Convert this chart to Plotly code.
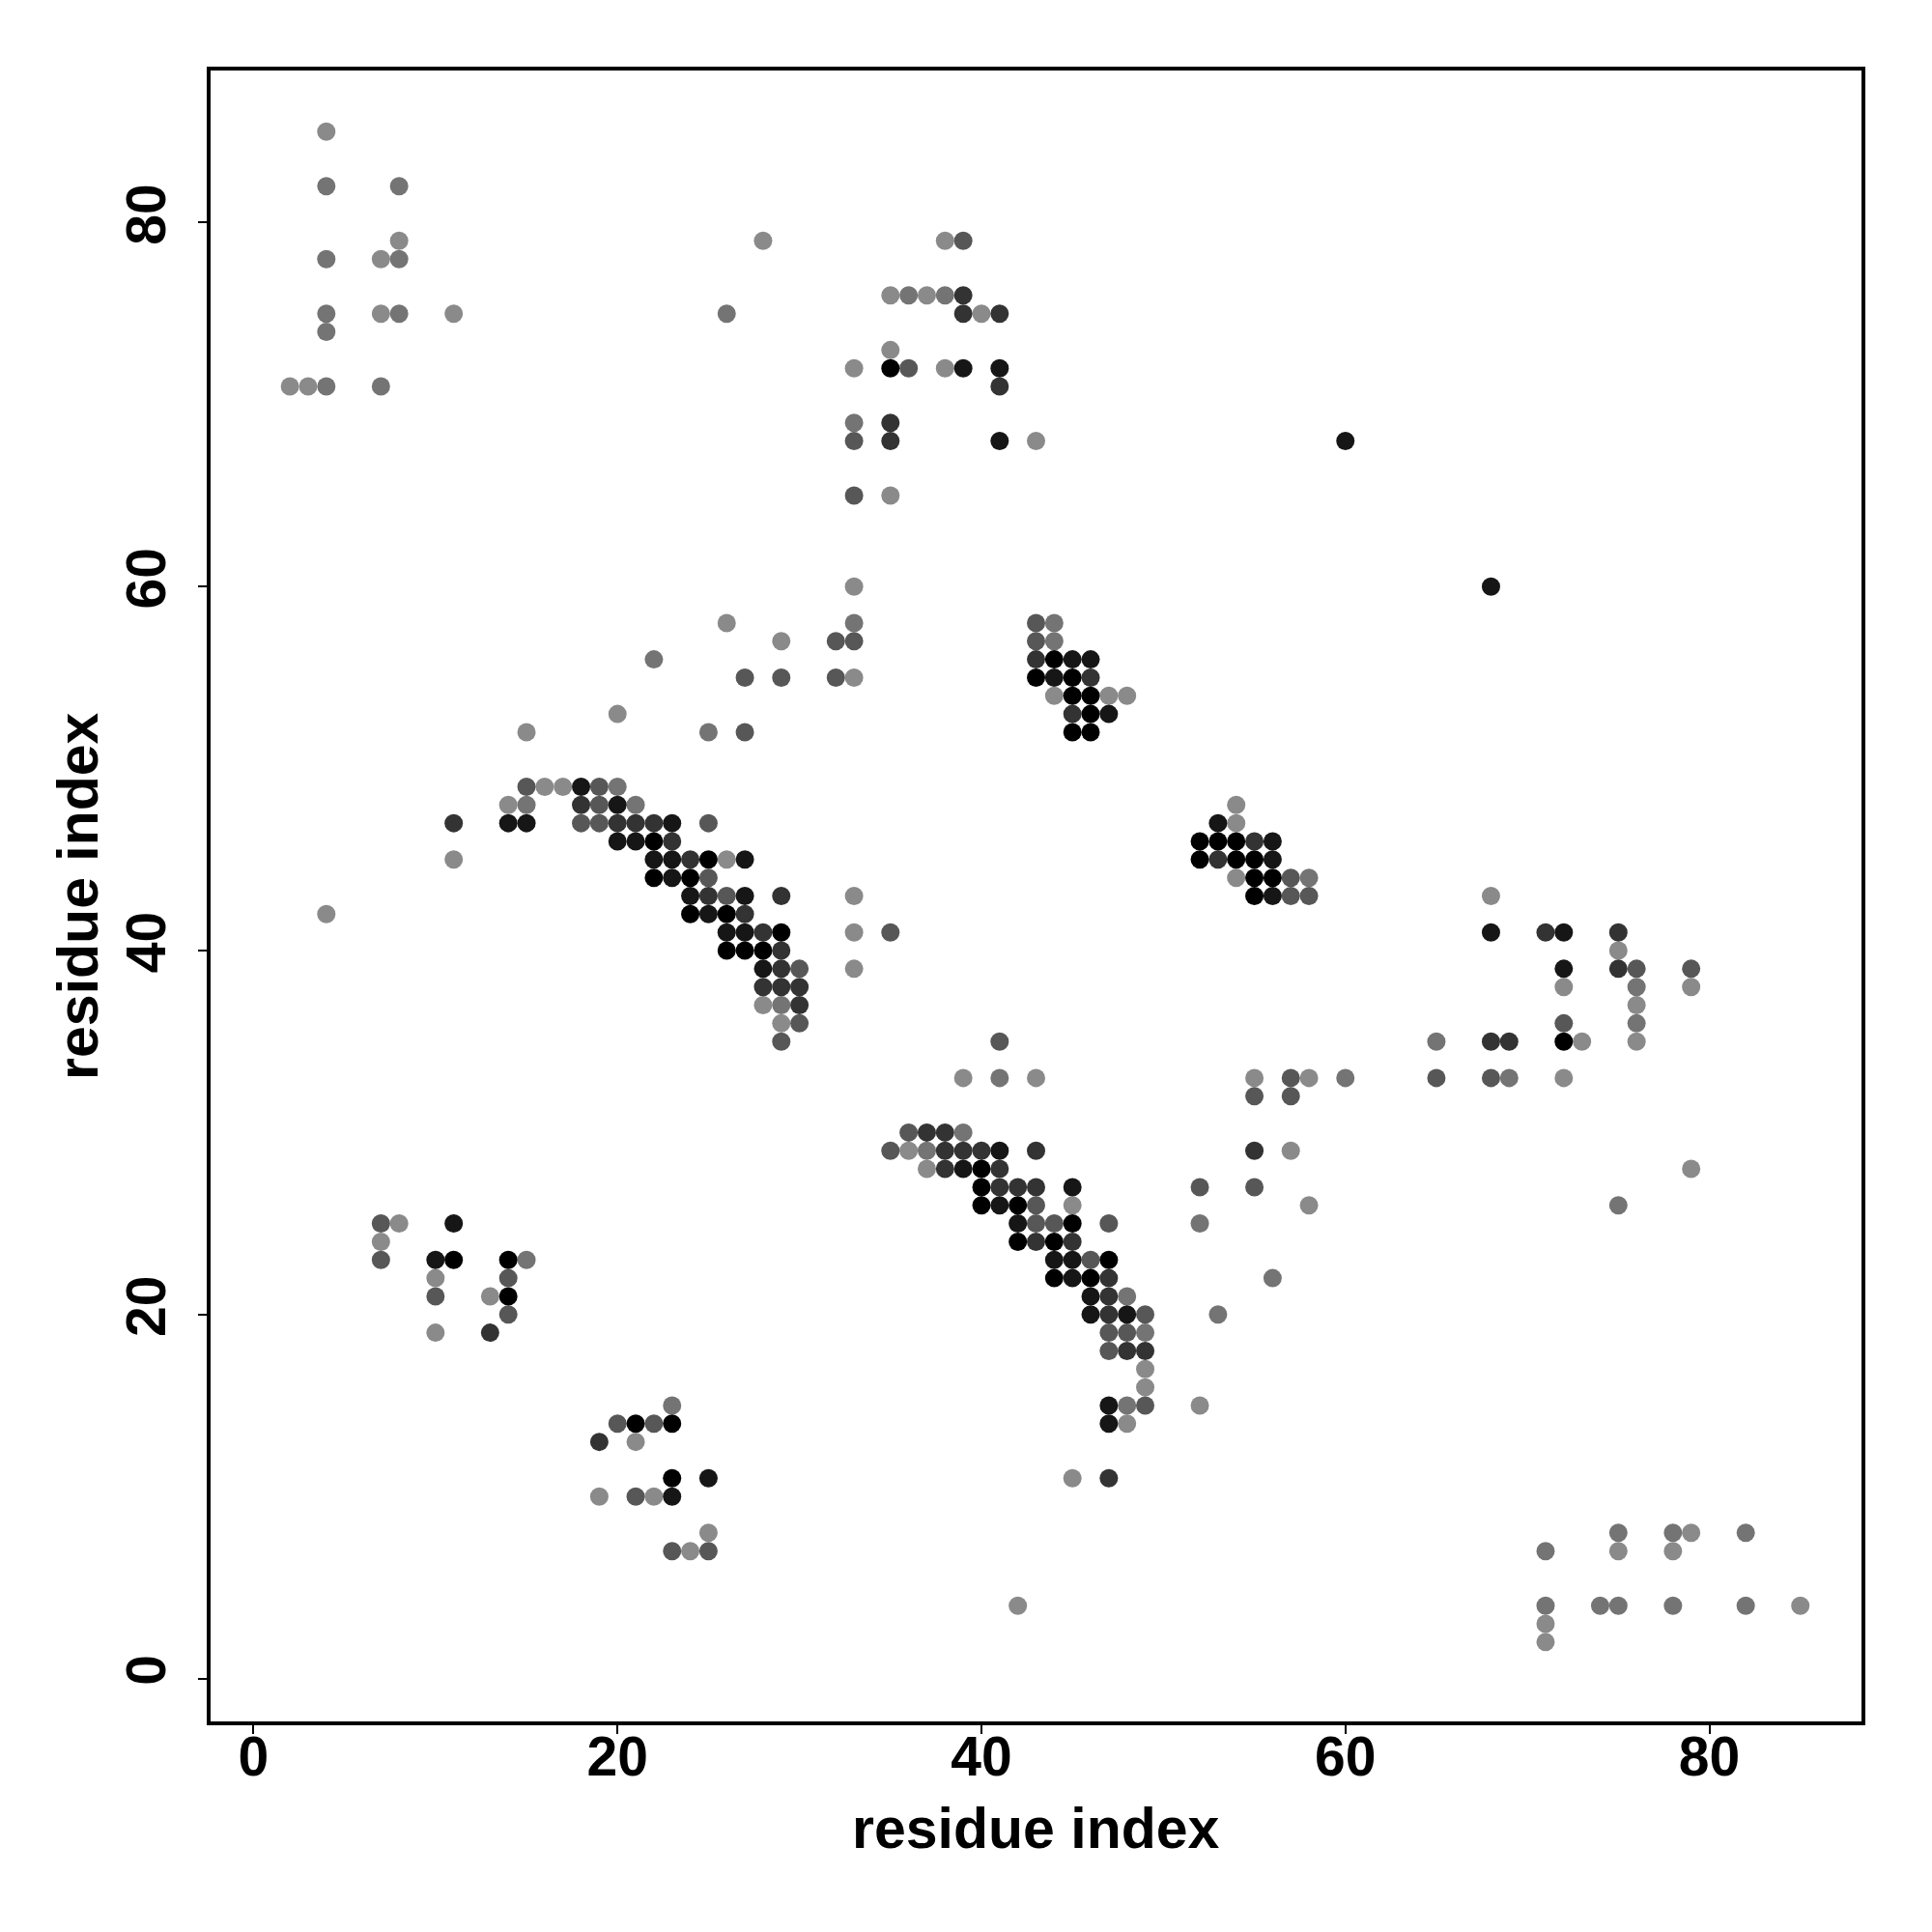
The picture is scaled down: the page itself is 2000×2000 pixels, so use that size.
import plotly.graph_objects as go

# Contact map: (i, j) residue pairs grouped by predicted contact probability level
# probability level of each group
level_prob = [0.05, 0.2, 0.4, 0.65, 0.85, 1.0]

contacts_p05 = [
    (4, 85), (8, 79), (28, 79), (38, 79), (7, 78), (35, 76), (37, 76), (7, 75), (11, 75), (40, 75),
    (35, 73), (33, 72), (38, 72), (2, 71), (3, 71), (43, 68), (35, 65), (33, 60), (26, 58), (29, 57),
    (33, 55), (44, 54), (47, 54), (48, 54), (20, 53), (15, 52), (16, 49), (17, 49), (14, 48), (54, 48),
    (54, 47), (11, 45), (26, 45), (54, 44), (33, 43), (68, 43), (4, 42), (33, 41), (75, 40), (33, 39),
    (72, 38), (79, 38), (28, 37), (76, 37), (29, 36), (73, 35), (76, 35), (39, 33), (43, 33), (55, 33),
    (58, 33), (72, 33), (36, 29), (57, 29), (37, 28), (79, 28), (45, 26), (58, 26), (8, 25), (7, 24),
    (10, 22), (13, 21), (10, 19), (49, 17), (49, 16), (52, 15), (48, 14), (21, 13), (45, 11), (19, 10),
    (22, 10), (25, 8), (79, 8), (24, 7), (75, 7), (78, 7), (42, 4), (85, 4), (71, 3), (71, 2),
]
contacts_p20 = [
    (4, 82), (8, 82), (4, 78), (8, 78), (36, 76), (38, 76), (4, 75), (8, 75), (26, 75), (4, 74),
    (4, 71), (7, 71), (33, 69), (33, 58), (44, 58), (44, 57), (22, 56), (25, 52), (20, 49), (15, 48),
    (21, 48), (58, 44), (76, 38), (29, 37), (76, 36), (65, 35), (41, 33), (60, 33), (69, 33), (39, 30),
    (37, 29), (75, 26), (52, 25), (15, 23), (56, 22), (48, 21), (53, 20), (49, 19), (23, 15), (48, 15),
    (75, 8), (78, 8), (82, 8), (71, 7), (71, 4), (74, 4), (75, 4), (78, 4), (82, 4),
]
contacts_p40 = [
    (39, 79), (36, 72), (33, 68), (33, 65), (43, 58), (32, 57), (33, 57), (43, 57), (27, 55), (29, 55),
    (32, 55), (27, 52), (15, 49), (19, 49), (19, 48), (18, 47), (19, 47), (25, 47), (25, 44), (57, 44),
    (26, 43), (57, 43), (58, 43), (35, 41), (30, 39), (76, 39), (79, 39), (30, 36), (72, 36), (29, 35),
    (41, 35), (57, 33), (65, 33), (68, 33), (55, 32), (57, 32), (36, 30), (35, 29), (52, 27), (55, 27),
    (43, 26), (7, 25), (43, 25), (44, 25), (47, 25), (7, 23), (46, 23), (14, 22), (10, 21), (14, 20),
    (49, 20), (47, 19), (48, 19), (47, 18), (49, 15), (20, 14), (22, 14), (21, 10), (23, 7), (25, 7),
]
contacts_p65 = [
    (39, 76), (39, 75), (41, 75), (41, 71), (35, 69), (35, 68), (43, 56), (46, 55), (45, 53), (18, 48),
    (11, 47), (20, 47), (21, 47), (22, 47), (23, 46), (55, 46), (24, 45), (53, 45), (25, 43), (29, 43),
    (27, 42), (28, 41), (71, 41), (75, 41), (29, 40), (29, 39), (75, 39), (28, 38), (29, 38), (30, 38),
    (30, 37), (68, 35), (69, 35), (37, 30), (38, 30), (38, 29), (39, 29), (40, 29), (43, 29), (55, 29),
    (38, 28), (41, 28), (41, 27), (42, 27), (43, 27), (43, 24), (45, 24), (47, 22), (47, 21), (47, 20),
    (48, 18), (49, 18), (13, 19), (19, 13), (47, 11),
]
contacts_p85 = [
    (39, 72), (41, 72), (41, 68), (60, 68), (68, 60), (45, 56), (46, 56), (44, 55), (47, 53), (18, 49),
    (20, 48), (14, 47), (15, 47), (23, 47), (53, 47), (20, 46), (21, 46), (56, 46), (22, 45), (23, 45),
    (27, 45), (56, 45), (23, 44), (24, 43), (27, 43), (56, 43), (25, 42), (26, 41), (27, 41), (68, 41),
    (72, 41), (28, 39), (72, 39), (41, 29), (39, 28), (45, 27), (41, 26), (11, 25), (42, 25), (10, 23),
    (44, 23), (45, 23), (45, 22), (46, 21), (46, 20), (48, 20), (47, 15), (47, 14), (25, 11), (23, 10),
]
contacts_p100 = [
    (35, 72), (44, 56), (43, 55), (45, 55), (45, 54), (46, 54), (46, 53), (45, 52), (46, 52), (22, 46),
    (52, 46), (53, 46), (54, 46), (25, 45), (52, 45), (54, 45), (55, 45), (22, 44), (24, 44), (55, 44),
    (56, 44), (55, 43), (24, 42), (26, 42), (29, 41), (26, 40), (27, 40), (28, 40), (72, 35), (40, 28),
    (40, 27), (40, 26), (42, 26), (45, 25), (42, 24), (44, 24), (11, 23), (14, 23), (47, 23), (44, 22),
    (46, 22), (14, 21), (21, 14), (23, 14), (23, 11),
]

groups = [contacts_p05, contacts_p20, contacts_p40, contacts_p65, contacts_p85, contacts_p100]

xs, ys, cs = [], [], []
for prob, grp in zip(level_prob, groups):
    for i, j in grp:
        xs.append(i)
        ys.append(j)
        cs.append(prob)

fig = go.Figure(go.Scatter(
    x=xs, y=ys, mode="markers",
    marker=dict(size=19, color=cs, cmin=0, cmax=1,
                colorscale=[[0, "rgb(145,145,145)"], [1, "rgb(0,0,0)"]],
                showscale=False, line=dict(width=0)),
    hoverinfo="x+y",
))

FONT = "Liberation Sans, Arial, sans-serif"
tickfont = dict(family=FONT, size=57, color="black", weight="bold")
axis_common = dict(
    range=[-2.36, 88.36], tickmode="array", tickvals=[0, 20, 40, 60, 80],
    showgrid=False, zeroline=False, showline=True, mirror=True,
    linecolor="black", linewidth=4, ticks="outside", ticklen=9, tickwidth=2,
    tickcolor="black", tickfont=tickfont,
)

fig.update_layout(
    width=1992, height=1992,
    margin=dict(l=210, r=73, t=65, b=218),
    paper_bgcolor="white", plot_bgcolor="white",
    showlegend=False,
    xaxis=dict(**axis_common, ticklabelstandoff=-25),
    yaxis=dict(**axis_common, tickangle=-90, ticklabelstandoff=11),
    annotations=[
        dict(text="residue index", xref="paper", yref="paper", x=0.5, y=-0.0649,
             xanchor="center", yanchor="middle", showarrow=False,
             font=dict(family=FONT, size=59, color="black", weight="bold")),
        dict(text="residue index", xref="paper", yref="paper", x=-0.0805, y=0.5,
             xanchor="center", yanchor="middle", showarrow=False, textangle=-90,
             font=dict(family=FONT, size=59, color="black", weight="bold")),
    ],
)

fig.write_html("out.html")
